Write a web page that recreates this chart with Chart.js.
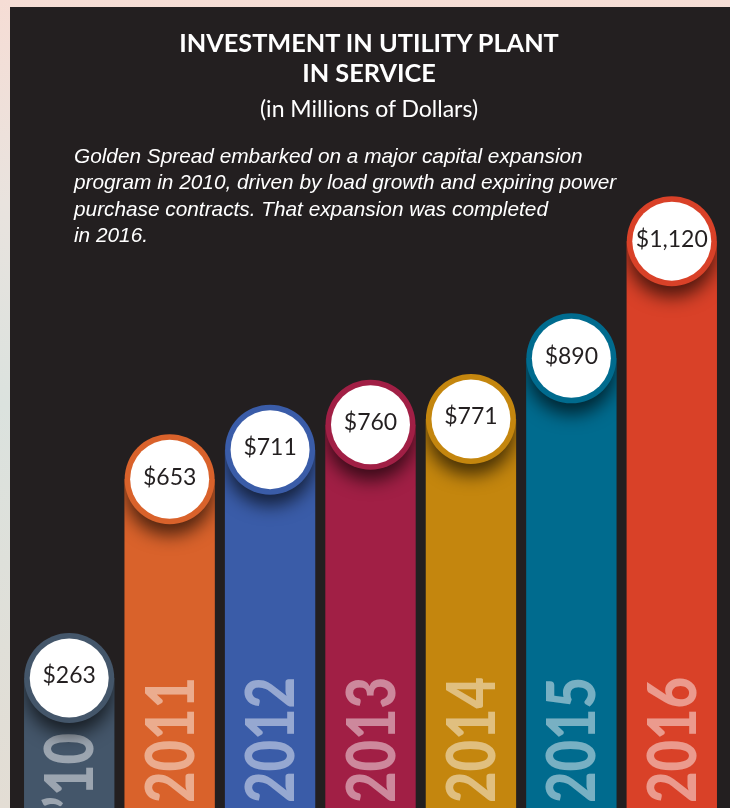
<!DOCTYPE html>
<html>
<head>
<meta charset="utf-8">
<script src="https://cdn.jsdelivr.net/npm/chart.js@4.4.0/dist/chart.umd.min.js"></script>
<style>
  body { margin: 0; width: 737px; height: 808px; overflow: hidden; position: relative;
         background: linear-gradient(180deg, #f6ddd5 0%, #e9e3de 25%, #dbe2de 50%, #e3ddd4 100%); }
  #edge { position: absolute; left: 730px; top: 0; width: 7px; height: 808px; background: #fff; }
  #panel { position: absolute; left: 10px; top: 7px; width: 720px; height: 801px; background: #231f20; }
  #chart { position: absolute; left: 0; top: 0; }
  .title { position: absolute; left: 0; width: 738px; text-align: center; color: #fff; font-family: Lato, sans-serif; }
  #t1 { top: 27px; font-size: 25.3px; font-weight: bold; line-height: 30px; }
  #t2 { top: 96px; font-size: 23px; line-height: 24px; }
  #note { position: absolute; left: 74px; top: 142.5px; color: #fff; font-family: "Liberation Sans", Arial, sans-serif;
          font-style: italic; font-size: 20.8px; line-height: 26.5px; white-space: nowrap; }
</style>
</head>
<body>
<div id="edge"></div>
<div id="panel"></div>
<canvas id="chart" width="737" height="808"></canvas>
<div class="title" id="t1">INVESTMENT IN UTILITY PLANT<br>IN SERVICE</div>
<div class="title" id="t2">(in Millions of Dollars)</div>
<div id="note">Golden Spread embarked on a major capital expansion<br>program in 2010, driven by load growth and expiring power<br>purchase contracts. That expansion was completed<br>in 2016.</div>
<script>
// chart data
const years = ["2010", "2011", "2012", "2013", "2014", "2015", "2016"];
const yearLabels = ["\u201910", "2011", "2012", "2013", "2014", "2015", "2016"];
const investment = [263, 653, 711, 760, 771, 890, 1120];
const barColors = ["#44566a", "#d9622b", "#3a5ca8", "#a11f45", "#c4860e", "#006b8e", "#d94128"];

// draws the bubbles, shadows and rotated years on top of each bar
const bubblePlugin = {
    id: "bubbles",
    afterDatasetsDraw(chart) {
        const ctx = chart.ctx;
        const meta = chart.getDatasetMeta(0);
        const bottom = chart.chartArea.bottom;

        ctx.save();
        ctx.font = "900 66px Lato";
        const squeeze = 126 / ctx.measureText("2014").width;
        ctx.restore();

        meta.data.forEach(function(bar, i) {
            const x = bar.x, y = bar.y, w = bar.width;
            const color = barColors[i];

            // year label
            ctx.save();
            const topY = Math.max(677, y + 55);
            ctx.translate(x, topY);
            ctx.rotate(-Math.PI / 2);
            ctx.scale(squeeze, 1);
            ctx.font = "900 66px Lato";
            ctx.fillStyle = "rgba(255,255,255,0.47)";
            ctx.textAlign = "right";
            ctx.textBaseline = "alphabetic";
            ctx.fillText(yearLabels[i], 0, 24);
            ctx.restore();

            // shadow under the bubble
            ctx.save();
            ctx.beginPath();
            ctx.rect(x - w / 2, y, w, bottom - y);
            ctx.clip();
            ctx.shadowColor = "rgba(0,0,0,0.65)";
            ctx.shadowBlur = 18;
            ctx.shadowOffsetY = 12;
            ctx.fillStyle = color;
            ctx.beginPath();
            ctx.arc(x, y, 44, 0, Math.PI * 2);
            ctx.fill();
            ctx.restore();

            // ring + white disc
            ctx.save();
            ctx.fillStyle = color;
            ctx.beginPath();
            ctx.arc(x, y, 45, 0, Math.PI * 2);
            ctx.fill();
            ctx.fillStyle = "#ffffff";
            ctx.beginPath();
            ctx.arc(x, y, 39.5, 0, Math.PI * 2);
            ctx.fill();

            ctx.fillStyle = "#231f20";
            ctx.font = "23px Lato";
            ctx.textAlign = "center";
            ctx.textBaseline = "middle";
            ctx.fillText("$" + investment[i].toLocaleString("en-US"), x, y - 2);
            ctx.restore();
        });
    }
};

new Chart(document.getElementById("chart"), {
    type: "bar",
    data: {
        labels: years,
        datasets: [{
            label: "Investment",
            data: investment,
            backgroundColor: barColors,
            borderWidth: 0,
            barPercentage: 0.9,
            categoryPercentage: 1
        }]
    },
    options: {
        responsive: false,
        animation: false,
        layout: { padding: { left: 19, right: 15, top: 0, bottom: 0 } },
        plugins: { legend: { display: false }, tooltip: { enabled: false } },
        scales: {
            x: { display: false },
            y: { display: false, min: 8, max: 1593 }
        }
    },
    plugins: [bubblePlugin]
});
</script>
</body>
</html>
